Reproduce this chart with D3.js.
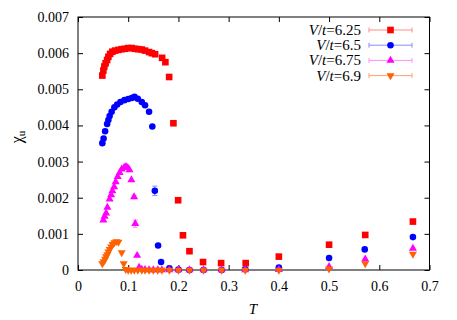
<!DOCTYPE html>
<html><head><meta charset="utf-8">
<script src="https://cdn.jsdelivr.net/npm/d3@7"></script>
<style>body{margin:0;background:#fff}svg{display:block}svg text{font-family:'Liberation Serif','DejaVu Serif',serif !important;fill:#000}</style>
</head><body><svg id="c" width="457" height="320"></svg>
<script>
const xTicks=[0,0.1,0.2,0.3,0.4,0.5,0.6,0.7];
const yTicks=[0,0.001,0.002,0.003,0.004,0.005,0.006,0.007];
const seriesNames=["6.25","6.5","6.75","6.9"];
const redT=[0.0485,0.0505,0.0525,0.055,0.058,0.0605,0.064,0.0685,0.074,0.0805,0.087,0.0935,0.1,0.107,0.1135,0.12,0.127,0.1335,0.1415,0.147,0.1535,0.1675,0.174,0.1815,0.190,0.1994,0.209,0.222,0.249,0.285,0.334,0.400,0.500,0.572,0.667];
const redChi=[0.00538,0.00552,0.00563,0.00572,0.00581,0.0059,0.00598,0.00604,0.00607,0.00609,0.00611,0.00612,0.00614,0.00614,0.00612,0.00611,0.0061,0.00607,0.00603,0.006,0.00597,0.00587,0.00575,0.00534,0.00406,0.00193,0.00096,0.00052,0.00022,0.00019,0.00019,0.00037,0.0007,0.00097,0.00134];
const redErr=[];
const blueT=[0.0485,0.051,0.054,0.058,0.0605,0.063,0.067,0.0725,0.078,0.0845,0.0925,0.1,0.107,0.1125,0.119,0.127,0.1335,0.1415,0.148,0.153,0.1595,0.1655,0.182,0.2,0.222,0.25,0.286,0.333,0.4,0.5,0.571,0.667];
const blueChi=[0.00351,0.00364,0.00384,0.00404,0.00415,0.00426,0.00438,0.0045,0.00458,0.00465,0.0047,0.00473,0.00476,0.00479,0.00474,0.00465,0.00456,0.00438,0.00397,0.00219,0.00068,0.00022,0.00005,0.00001,0,0,0,0.00002,0.00007,0.00033,0.00057,0.00091];
const blueErr=[0,0,0,0,0,0,0,0,0,0,0,0,0,0,0,0,0,0,0,0.00013];
const magT=[0.0505,0.053,0.056,0.0585,0.063,0.066,0.0685,0.072,0.075,0.079,0.083,0.087,0.092,0.0955,0.099,0.1025,0.1063,0.1117,0.114,0.1177,0.1217,0.127,0.1335,0.1415,0.15,0.159,0.167,0.182,0.2,0.222,0.25,0.286,0.333,0.4,0.5,0.572,0.667];
const magChi=[0.00138,0.00148,0.00157,0.00173,0.00196,0.00208,0.00219,0.0023,0.00244,0.00258,0.00269,0.00279,0.00284,0.00286,0.00283,0.00277,0.00249,0.00202,0.00128,0.0004,0.00007,0.00002,0.00001,0,0,0,0,0,0,0,0,0,0,0.00001,0.00009,0.0003,0.0006];
const magErr=[0,0,0,0,0,0,0,0,0,0,0,0,0,0,0,0,0,0.00005,0.0001];
const orT=[0.0485,0.051,0.054,0.056,0.0585,0.0605,0.063,0.066,0.069,0.0725,0.0765,0.0805,0.087,0.091,0.095,0.1,0.106,0.112,0.119,0.127,0.1335,0.1415,0.15,0.159,0.167,0.182,0.2,0.222,0.25,0.286,0.333,0.4,0.5,0.572,0.667];
const orChi=[0.00018,0.00023,0.0003,0.00037,0.00043,0.0005,0.00057,0.00064,0.00071,0.00076,0.00079,0.00077,0.00048,0.00018,0.00002,0,0,0,0,0,0,0,0,0,0,0,0,0,0,0,0,0,0.00003,0.00018,0.00044];
const orErr=[];

const svg=d3.select("#c");
const L=78,R=429.5,T0=17,B=270;
const x=d3.scaleLinear().domain([0,0.7]).range([L,R]);
const y=d3.scaleLinear().domain([0,0.007]).range([B,T0]);

const series=[
 {name:seriesNames[0],t:redT,v:redChi,e:redErr,col:"#ff0000",ecol:"#ff8c8c",sym:d3.symbolSquare,size:44},
 {name:seriesNames[1],t:blueT,v:blueChi,e:blueErr,col:"#0000ff",ecol:"#8c8cff",sym:d3.symbolCircle,size:34},
 {name:seriesNames[2],t:magT,v:magChi,e:magErr,col:"#ff00ff",ecol:"#ff8cff",sym:d3.symbolTriangle,size:28},
 {name:seriesNames[3],t:orT,v:orChi,e:orErr,col:"#ff6000",ecol:"#ffa070",sym:d3.symbolTriangle,size:28,down:true}
];

const gx=svg.append("g").attr("transform",`translate(0,${B})`)
 .call(d3.axisBottom(x).tickValues(xTicks).tickSize(-5).tickPadding(11).tickFormat(d3.format(".1~f")));
const gy=svg.append("g").attr("transform",`translate(${L},0)`)
 .call(d3.axisLeft(y).tickValues(yTicks).tickSize(-5).tickPadding(9).tickFormat(d=>d===0?"0":d3.format(".3f")(d)));
const gt=svg.append("g").attr("transform",`translate(0,${T0})`)
 .call(d3.axisTop(x).tickValues(xTicks).tickSize(-5).tickFormat(""));
const gr=svg.append("g").attr("transform",`translate(${R},0)`)
 .call(d3.axisRight(y).tickValues(yTicks).tickSize(-5).tickFormat(""));
[gx,gy,gt,gr].forEach(g=>{g.select(".domain").remove();g.attr("font-family",null).attr("font-size",null);g.selectAll("text").style("font-size","14px");g.selectAll("line").attr("stroke","#000");});
svg.append("rect").attr("x",L).attr("y",T0).attr("width",R-L).attr("height",B-T0).attr("fill","none").attr("stroke","#000").attr("stroke-width",1);

svg.append("text").attr("x",253).attr("y",314).attr("text-anchor","middle").style("font-size","15px").style("font-style","italic").text("T");
const yl=svg.append("text").attr("transform","translate(22,137) rotate(-90)").attr("text-anchor","middle").style("font-size","16px");
yl.append("tspan").text("χ");
yl.append("tspan").attr("dy",3).style("font-size","11px").text("u");

series.forEach(s=>{
 const g=svg.append("g");
 s.t.forEach((t,i)=>{
  const e=s.e[i]||0;
  if(e>0){
   g.append("line").attr("x1",x(t)).attr("x2",x(t)).attr("y1",y(s.v[i]-e)).attr("y2",y(s.v[i]+e)).attr("stroke",s.ecol).attr("stroke-width",1);
   [s.v[i]-e,s.v[i]+e].forEach(vv=>g.append("line").attr("x1",x(t)-2.5).attr("x2",x(t)+2.5).attr("y1",y(vv)).attr("y2",y(vv)).attr("stroke",s.ecol));
  }
  g.append("path").attr("d",d3.symbol().type(s.sym).size(s.size)())
   .attr("transform",`translate(${x(t)},${y(s.v[i])})${s.down?" rotate(180)":""}`).attr("fill",s.col);
 });
});

series.forEach((s,i)=>{
 const cy=30+i*15.2;
 const tx=svg.append("text").attr("x",361).attr("y",cy+5).attr("text-anchor","end").style("font-size","15px");
 tx.append("tspan").style("font-style","italic").text("V");
 tx.append("tspan").text("/");
 tx.append("tspan").style("font-style","italic").text("t");
 tx.append("tspan").text("="+s.name);
 svg.append("line").attr("x1",369).attr("x2",412).attr("y1",cy).attr("y2",cy).attr("stroke",s.ecol);
 [369,412].forEach(xx=>svg.append("line").attr("x1",xx).attr("x2",xx).attr("y1",cy-2.5).attr("y2",cy+2.5).attr("stroke",s.ecol));
 svg.append("path").attr("d",d3.symbol().type(s.sym).size(s.size)()).attr("transform",`translate(390.5,${cy})${s.down?" rotate(180)":""}`).attr("fill",s.col);
});
</script></body></html>
